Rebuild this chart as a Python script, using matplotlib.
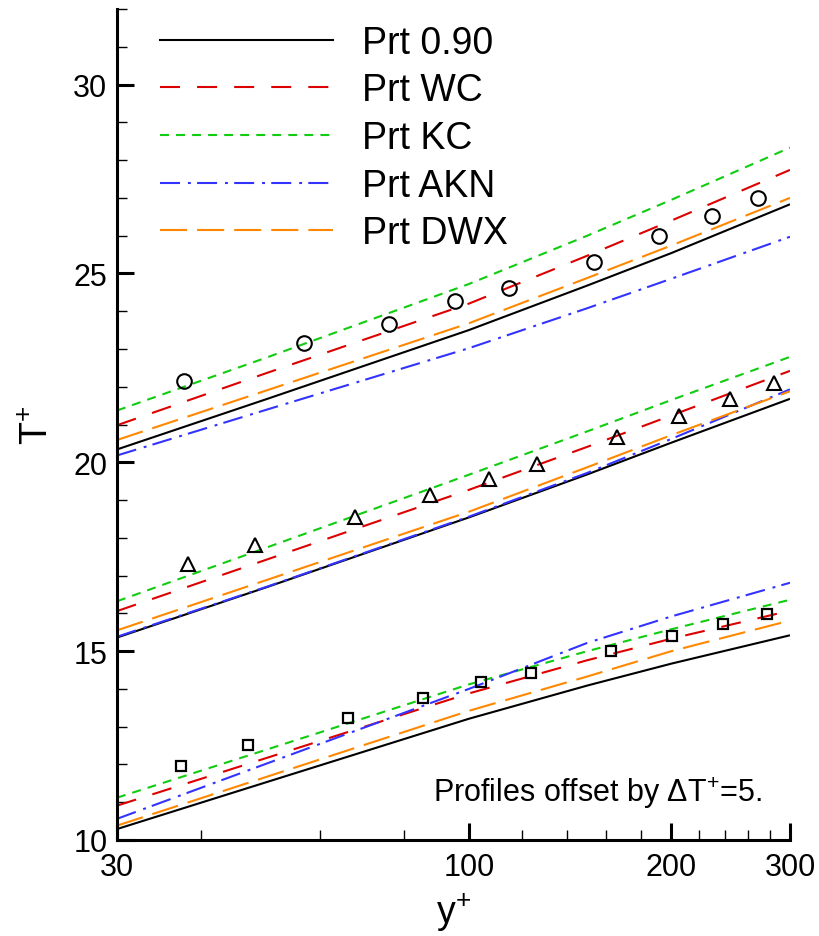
import numpy as np
import matplotlib
matplotlib.use("Agg")
import matplotlib.pyplot as plt
from matplotlib.ticker import FixedLocator, NullFormatter, FixedFormatter

plt.rcParams['font.family'] = ['Liberation Sans', 'DejaVu Sans']
plt.rcParams['mathtext.default'] = 'regular'

yp = [30, 50, 100, 150, 200, 300]

# top group (offset +10), circles
top_090 = [20.34, 21.67, 23.50, 24.68, 25.54, 26.83]
top_wc = [20.98, 22.36, 24.20, 25.47, 26.40, 27.74]
top_kc = [21.37, 22.77, 24.72, 26.00, 26.95, 28.33]
top_akn = [20.18, 21.39, 23.02, 24.08, 24.86, 25.97]
top_dwx = [20.59, 21.90, 23.68, 24.88, 25.74, 27.00]

# middle group (offset +5), triangles
mid_090 = [15.36, 16.69, 18.54, 19.68, 20.52, 21.68]
mid_wc = [16.06, 17.42, 19.27, 20.41, 21.24, 22.42]
mid_kc = [16.32, 17.74, 19.67, 20.82, 21.65, 22.79]
mid_akn = [15.38, 16.70, 18.56, 19.72, 20.62, 21.93]
mid_dwx = [15.55, 16.88, 18.69, 19.87, 20.72, 21.88]

# bottom group (no offset), squares
bot_090 = [10.29, 11.53, 13.21, 14.09, 14.67, 15.42]
bot_wc = [10.91, 12.17, 13.88, 14.76, 15.33, 16.07]
bot_kc = [11.12, 12.39, 14.12, 15.00, 15.58, 16.36]
bot_akn = [10.56, 12.02, 14.00, 15.22, 15.92, 16.81]
bot_dwx = [10.38, 11.67, 13.42, 14.33, 15.00, 15.81]

# experimental data
circ_x = [37.7, 56.9, 76.1, 95.3, 114.6, 153.3, 191.8, 230.0, 269.0]
circ_y = [22.15, 23.15, 23.65, 24.27, 24.61, 25.29, 25.98, 26.52, 26.99]
tri_x = [38.3, 48.1, 67.8, 87.5, 107.0, 126.3, 165.9, 205.0, 244.0, 284.0]
tri_y = [17.30, 17.81, 18.56, 19.13, 19.56, 19.95, 20.66, 21.22, 21.68, 22.11]
sq_x = [37.4, 46.9, 66.1, 85.4, 104.4, 123.6, 162.4, 200.4, 238.9, 277.0]
sq_y = [11.96, 12.51, 13.22, 13.77, 14.18, 14.41, 15.01, 15.39, 15.72, 15.97]

labels = ['Prt 0.90', 'Prt WC', 'Prt KC', 'Prt AKN', 'Prt DWX']
colors = ['black', '#dd0000', '#11cc11', '#3333ff', '#ff8800']
dashes = [(), (9.6, 8.2), (4.3, 3.4), (9.6, 3.8, 1.4, 3.0), (13.0, 4.8)]

groups = [
    [top_090, top_wc, top_kc, top_akn, top_dwx],
    [mid_090, mid_wc, mid_kc, mid_akn, mid_dwx],
    [bot_090, bot_wc, bot_kc, bot_akn, bot_dwx],
]

fig = plt.figure(figsize=(8.19, 9.37), dpi=100)
ax = fig.add_axes([117/819, 1 - 841/937, 673/819, 831/937])

lw = 1.5
for g in groups:
    for i, vals in enumerate(g):
        line, = ax.plot(yp, vals, color=colors[i], lw=lw, solid_capstyle='butt',
                        dash_capstyle='butt')
        if dashes[i]:
            line.set_dashes(dashes[i])

handles = []
for i in range(5):
    h, = ax.plot([], [], color=colors[i], lw=lw, dash_capstyle='butt')
    if dashes[i]:
        h.set_dashes(dashes[i])
    handles.append(h)

ax.plot(circ_x, circ_y, 'o', ms=10.5, mfc='none', mec='black', mew=1.5)
ax.plot(tri_x, tri_y, '^', ms=10, mfc='none', mec='black', mew=1.5)
ax.plot(sq_x, sq_y, 's', ms=7.5, mfc='none', mec='black', mew=1.6)

ax.set_xscale('log')
ax.set_xlim(30, 300)
ax.set_ylim(10, 32)

ax.xaxis.set_major_locator(FixedLocator([30, 100, 200, 300]))
ax.xaxis.set_major_formatter(FixedFormatter(['30', '100', '200', '300']))
ax.xaxis.set_minor_locator(FixedLocator([40, 60, 80, 120, 140, 160, 180, 220, 240, 260, 280]))
ax.xaxis.set_minor_formatter(NullFormatter())
ax.yaxis.set_major_locator(FixedLocator([10, 15, 20, 25, 30]))
ax.yaxis.set_minor_locator(FixedLocator(np.arange(11, 33)))

ax.spines['top'].set_visible(False)
ax.spines['right'].set_visible(False)
ax.spines['left'].set_linewidth(2.2)
ax.spines['bottom'].set_linewidth(2.2)

ax.tick_params(which='major', direction='in', length=12, width=2.2, labelsize=22)
ax.tick_params(which='minor', direction='in', length=7, width=1)
ax.tick_params(axis='y', which='major', pad=7)
ax.tick_params(axis='x', which='major', pad=9)
ax.tick_params(top=False, right=False, which='both')

ax.set_xlabel('y$^{+}$', fontsize=27, labelpad=6)
ax.set_ylabel('T$^{+}$', fontsize=27, labelpad=12)

ax.text(0.958, 0.058, 'Profiles offset by \u0394T$^{+}$=5.', transform=ax.transAxes,
        ha='right', va='center', fontsize=22)

ax.legend(handles, labels, loc='upper left', bbox_to_anchor=(43/673, 0.981),
          frameon=False, fontsize=27, handlelength=4.6, handletextpad=0.8,
          labelspacing=0.31, borderpad=0, borderaxespad=0)

fig.savefig('out.png', dpi=100)
